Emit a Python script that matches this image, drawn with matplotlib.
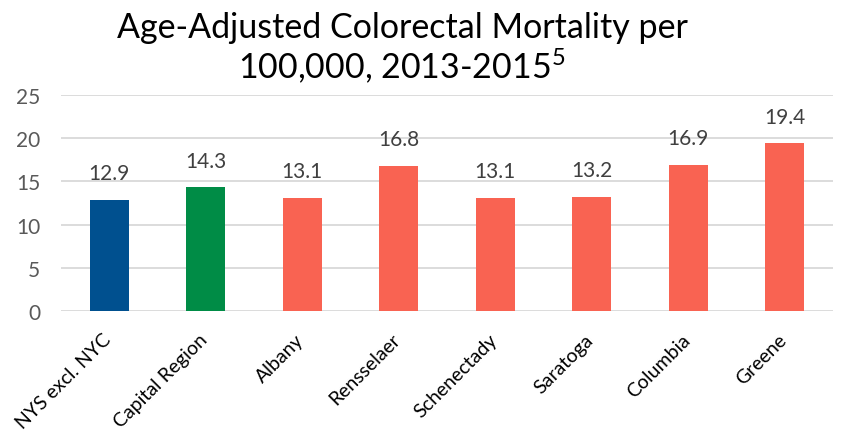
import matplotlib
matplotlib.use("Agg")
import matplotlib.pyplot as plt
from matplotlib.transforms import ScaledTranslation

categories = ["NYS excl. NYC", "Capital Region", "Albany", "Rensselaer",
              "Schenectady", "Saratoga", "Columbia", "Greene"]
values = [12.9, 14.3, 13.1, 16.8, 13.1, 13.2, 16.9, 19.4]
colors = ["#00508F", "#008C46", "#F96352", "#F96352", "#F96352",
          "#F96352", "#F96352", "#F96352"]
yticks = [0, 5, 10, 15, 20, 25]

FONT = "Lato"
plt.rcParams["font.family"] = [FONT, "DejaVu Sans"]
plt.rcParams["mathtext.fontset"] = "custom"
plt.rcParams["mathtext.rm"] = FONT

fig = plt.figure(figsize=(8.42, 4.39), dpi=100)
ax = fig.add_axes([61/842, 1-312/439, (833-61)/842, (312-96)/439])

x = list(range(len(categories)))
ax.bar(x, values, width=0.4, color=colors, zorder=3)
ax.set_xlim(-0.5, len(categories)-0.5)
ax.set_ylim(0, 25)
ax.set_yticks(yticks)
ax.yaxis.grid(True, color="#D9D9D9", linewidth=1.3, zorder=0)
ax.set_axisbelow(True)
for s in ax.spines.values():
    s.set_visible(False)
ax.tick_params(axis="both", length=0)
ax.tick_params(axis="y", labelsize=15, labelcolor="#595959", pad=15)
ax.set_xticks(x)
ax.set_xticklabels(categories, rotation=45, ha="right", rotation_mode="anchor",
                   fontsize=14, color="black")
ax.tick_params(axis="x", pad=14)
shift = ScaledTranslation(-5/72, 0, fig.dpi_scale_trans)
for lbl in ax.get_xticklabels():
    lbl.set_transform(lbl.get_transform() + shift)

for xi, v in zip(x, values):
    ax.annotate(f"{v:.1f}", (xi, v), xytext=(0, 12), textcoords="offset points",
                ha="center", va="bottom", fontsize=15, color="#404040")

fig.text(402/842, 1-38/439, "Age-Adjusted Colorectal Mortality per",
         ha="center", va="baseline", fontsize=24.5, color="black")
fig.text(402/842, 1-79/439, "100,000, 2013-2015$^{5}$",
         ha="center", va="baseline", fontsize=24.5, color="black")

fig.savefig("out.png", dpi=100)
